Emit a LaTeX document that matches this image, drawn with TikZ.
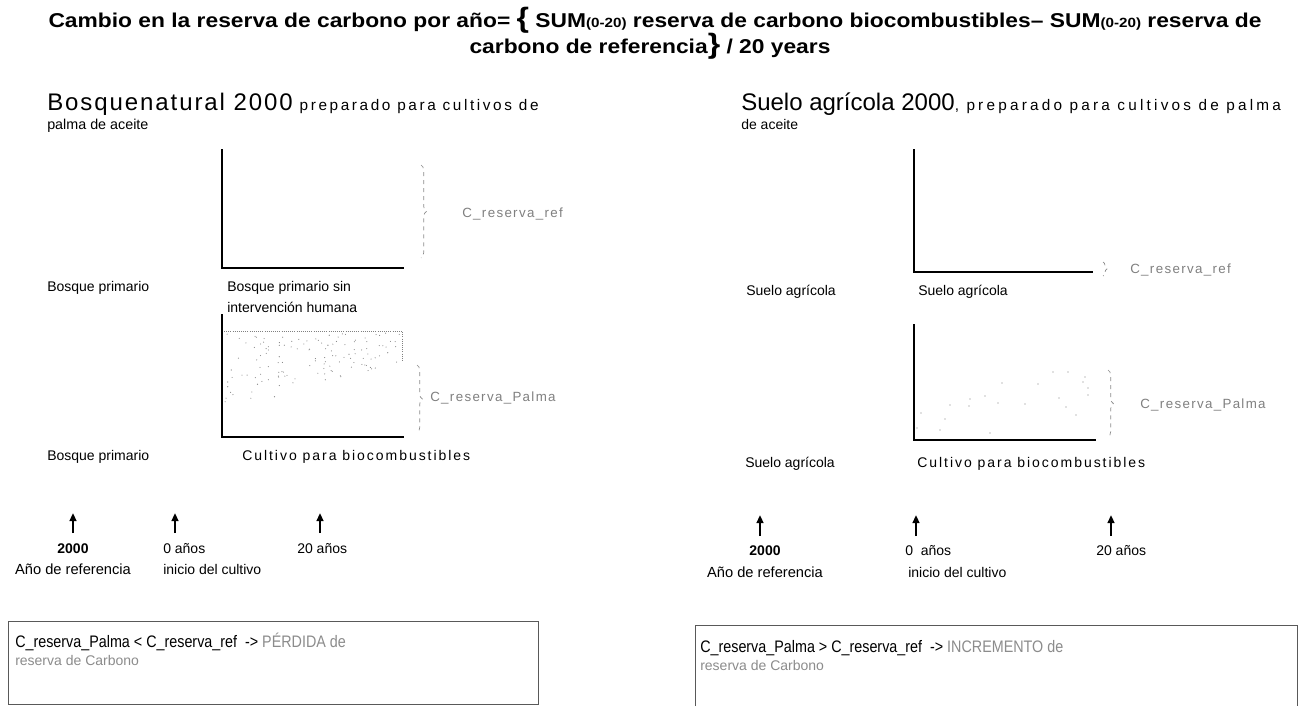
\documentclass[tikz,border=0pt]{standalone}
\usepackage{fontspec}
\setmainfont{Liberation Sans}
\newfontfamily\titlef[FakeStretch=1.14]{Liberation Sans}
\newfontfamily\boxf[FakeStretch=0.86]{Liberation Sans}
\newfontfamily\wideA[LetterSpace=8]{Liberation Sans}
\newfontfamily\wideB[LetterSpace=17]{Liberation Sans}
\newfontfamily\wideC[LetterSpace=21]{Liberation Sans}
\newfontfamily\wideD[LetterSpace=14]{Liberation Sans}
\newfontfamily\wideE[LetterSpace=10]{Liberation Sans}
\usetikzlibrary{decorations.pathreplacing,arrows.meta}
\begin{document}
\begin{tikzpicture}[x=0.75pt,y=-0.75pt]
\tikzset{
 lbl/.style={anchor=base west, inner sep=0pt, font=\fontsize{10.5}{12}\selectfont},
 clbl/.style={anchor=base, inner sep=0pt, font=\fontsize{10.5}{12}\selectfont},
 widelbl/.style={anchor=base west, inner sep=0pt, font=\wideD\fontsize{10.5}{12}\selectfont},
 glbl/.style={anchor=west, inner sep=0pt, text=black!50, font=\wideE\fontsize{10}{12}\selectfont},
 head/.style={anchor=base west, inner sep=0pt},
 sub/.style={anchor=base west, inner sep=0pt, font=\fontsize{10.75}{12}\selectfont},
 boxt/.style={anchor=base west, inner sep=0pt, font=\boxf\fontsize{12.5}{14}\selectfont},
 titlet/.style={inner sep=0pt, font=\titlef\bfseries\fontsize{15}{17}\selectfont},
 axisline/.style={line width=2pt, line cap=rect},
 brc/.style={decorate, decoration={brace, amplitude=4pt}, draw=black!45, dashed, line width=0.5pt},
 tarrow/.style={-{Triangle[length=6pt,width=5pt]}, line width=1.6pt},
 boxline/.style={draw=black!65, line width=0.6pt},
 dotf/.style={fill=black!50},
}
\useasboundingbox (0,0) rectangle (1305,706);
\fill[white] (0,0) rectangle (1305,706);

% ---------- title ----------
\node[titlet, anchor=base] (t1) at (655,28)
 {Cambio en la reserva de carbono por año= {\fontsize{21}{21}\selectfont\{} SUM{\fontsize{10}{10}\selectfont(0-20)} reserva de carbono biocombustibles– SUM{\fontsize{10}{10}\selectfont(0-20)} reserva de};
\node[titlet, anchor=base] (t2) at (650,54)
 {carbono de referencia{\fontsize{21}{21}\selectfont\}} / 20 years};

% ---------- left panel ----------
\node[head] (h1) at (47,111) {{\wideA\fontsize{18}{20}\selectfont Bosquenatural 2000}{\wideB\fontsize{11.5}{12}\selectfont\ preparado para cultivos de}};
\node[sub] (h1b) at (47,130) {palma de aceite};

\coordinate (a1t) at (222,150);
\coordinate (a1o) at (222,268);
\coordinate (a1r) at (403,268);
\draw[axisline] (a1t) -- (a1o) -- (a1r);
\coordinate (b1t) at (421,165);
\coordinate (b1b) at (421,258);
\draw[brc] (b1t) -- (b1b);
\node[glbl] (cref1) at (462,214) {C\_reserva\_ref};

\node[lbl] (bp1) at (47,291) {Bosque primario};
\node[lbl] (bps) at (227,291) {Bosque primario sin};
\node[lbl] (bps2) at (227,312) {intervención humana};

\coordinate (a2t) at (222,315);
\coordinate (a2o) at (222,437);
\coordinate (a2r) at (403,437);
% dotted area
\draw[black!50, densely dotted, line width=0.6pt] (224,331) -- (402,331) -- (402,362);
\pgfmathsetseed{11}
\foreach \i in {1,...,130}{
  \pgfmathsetmacro{\u}{rnd}
  \pgfmathsetmacro{\v}{rnd}
  \pgfmathsetmacro{\xx}{225+\u*176}
  \pgfmathsetmacro{\yb}{412-(\xx-224)/178*50}
  \pgfmathsetmacro{\yy}{333+\v*(\yb-333)}
  \fill[dotf] (\xx,\yy) circle (0.55);
}
\draw[axisline] (a2t) -- (a2o) -- (a2r);
\coordinate (b2t) at (417,365);
\coordinate (b2b) at (417,433);
\draw[brc] (b2t) -- (b2b);
\node[glbl] (cpal1) at (430,398) {C\_reserva\_Palma};

\node[lbl] (bp2) at (47,460) {Bosque primario};
\node[widelbl] (cult1) at (242,460) {Cultivo para biocombustibles};

% time labels left
\node[clbl, font=\fontsize{10.5}{12}\selectfont\bfseries] (y2000a) at (73,553) {2000};
\node[clbl, font=\fontsize{11}{12}\selectfont] (refa) at (73,574) {Año de referencia};
\node[lbl] (y0a) at (163,553) {0 años};
\node[lbl] (inia) at (163,574) {inicio del cultivo};
\node[lbl] (y20a) at (297,553) {20 años};
\coordinate (ar1) at (73,513);
\coordinate (ar2) at (175,513);
\coordinate (ar3) at (320,513);
\draw[tarrow] (73,533) -- (ar1);
\draw[tarrow] (175,533) -- (ar2);
\draw[tarrow] (320,533) -- (ar3);

% box left
\draw[boxline] (8,621) rectangle (538,704);
\node[boxt] (bx1) at (15,647) {C\_reserva\_Palma < C\_reserva\_ref\ \ -> \textcolor{black!45}{PÉRDIDA de}};
\node[boxt, text=black!45, font=\fontsize{10.5}{12}\selectfont] (bx1b) at (15,665) {reserva de Carbono};

% ---------- right panel ----------
\node[head] (h2) at (741,111) {{\fontsize{18}{20}\selectfont Suelo agrícola 2000}{\wideC\fontsize{11.5}{12}\selectfont, preparado para cultivos de palma}};
\node[sub, font=\fontsize{10.5}{12}\selectfont] (h2b) at (741,130) {de aceite};

\coordinate (c1t) at (914,150);
\coordinate (c1o) at (914,272);
\coordinate (c1r) at (1092,272);
\draw[axisline] (c1t) -- (c1o) -- (c1r);
\coordinate (d1t) at (1103,262);
\coordinate (d1b) at (1103,276);
\draw[brc, decoration={brace, amplitude=3pt}] (d1t) -- (d1b);
\node[glbl] (cref2) at (1130,270) {C\_reserva\_ref};

\node[lbl] (sa1) at (746,295) {Suelo agrícola};
\node[lbl] (sa2) at (918,295) {Suelo agrícola};

\coordinate (c2t) at (914,325);
\coordinate (c2o) at (914,440);
\coordinate (c2r) at (1095,440);
\foreach \p in {(917,428),(921,413),(945,419),(950,405),(969,406),(970,399),(985,396),(998,403),(1002,383),(1025,404),(1038,384),(1053,372),(1059,398),(1066,407),(1068,372),(1076,415),(1083,382),(1085,377),(1088,388),(1088,395),(940,430),(990,433)}
  \fill[dotf] \p circle (0.6);
\draw[axisline] (c2t) -- (c2o) -- (c2r);
\coordinate (d2t) at (1108,370);
\coordinate (d2b) at (1108,437);
\draw[brc] (d2t) -- (d2b);
\node[glbl] (cpal2) at (1140,405) {C\_reserva\_Palma};

\node[lbl] (sa3) at (745,467) {Suelo agrícola};
\node[widelbl] (cult2) at (917,467) {Cultivo para biocombustibles};

% time labels right
\node[clbl, font=\fontsize{10.5}{12}\selectfont\bfseries] (y2000b) at (765,555) {2000};
\node[clbl, font=\fontsize{11}{12}\selectfont] (refb) at (765,577) {Año de referencia};
\node[lbl] (y0b) at (905,555) {0\ \ años};
\node[lbl] (inib) at (908,577) {inicio del cultivo};
\node[lbl] (y20b) at (1096,555) {20 años};
\coordinate (ar4) at (760,515);
\coordinate (ar5) at (916,515);
\coordinate (ar6) at (1111,515);
\draw[tarrow] (760,536) -- (ar4);
\draw[tarrow] (916,536) -- (ar5);
\draw[tarrow] (1111,536) -- (ar6);

% box right (bottom cut off)
\draw[boxline] (695,706) -- (695,625) -- (1297,625) -- (1297,706);
\node[boxt] (bx2) at (700,652) {C\_reserva\_Palma > C\_reserva\_ref\ \ -> \textcolor{black!45}{INCREMENTO de}};
\node[boxt, text=black!45, font=\fontsize{10.5}{12}\selectfont] (bx2b) at (700,670) {reserva de Carbono};
\end{tikzpicture}
\end{document}
